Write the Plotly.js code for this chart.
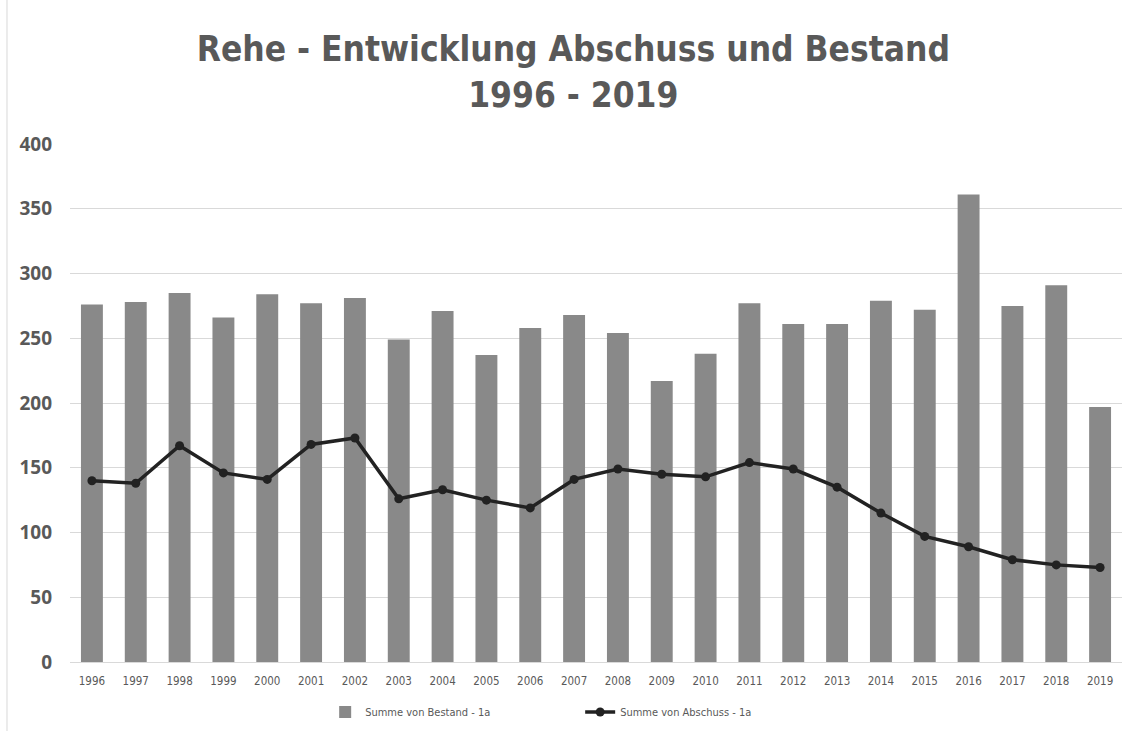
<!DOCTYPE html>
<html>
<head>
<meta charset="utf-8">
<script src="https://cdn.plot.ly/plotly-3.0.1.min.js"></script>
<style>html,body{margin:0;padding:0;background:#fff;}#chart{width:1133px;height:731px;}</style>
</head>
<body>
<div id="chart"></div>
<script>
const years = ["1996","1997","1998","1999","2000","2001","2002","2003","2004","2005","2006","2007","2008","2009","2010","2011","2012","2013","2014","2015","2016","2017","2018","2019"];
const bestand = [276,278,285,266,284,277,281,249,271,237,258,268,254,217,238,277,261,261,279,272,361,275,291,197];
const abschuss = [140,138,167,146,141,168,173,126,133,125,119,141,149,145,143,154,149,135,115,97,89,79,75,73];
const yTicks = [0,50,100,150,200,250,300,350,400];

const narrow = '"DejaVu Sans Condensed", "Liberation Sans Narrow", sans-serif';
const gray = '#595959';

const traces = [
  {
    type: 'bar', x: years, y: bestand, name: 'Summe von Bestand - 1a',
    marker: {color: '#898989', line: {width: 0}},
    hoverinfo: 'x+y'
  },
  {
    type: 'scatter', mode: 'lines+markers', x: years, y: abschuss, name: 'Summe von Abschuss - 1a',
    line: {color: '#222222', width: 3.5},
    marker: {color: '#222222', size: 9, symbol: 'circle'}
  }
];

const layout = {
  width: 1133, height: 731,
  margin: {l: 70, r: 11, t: 144, b: 69},
  paper_bgcolor: '#ffffff', plot_bgcolor: '#ffffff',
  title: {
    text: 'Rehe - Entwicklung Abschuss und Bestand<br>1996 - 2019',
    font: {family: narrow, size: 35, color: gray, weight: 'bold'},
    x: 0.506, xanchor: 'center', xref: 'container',
    y: 0.916, yanchor: 'top', yref: 'container'
  },
  bargap: 0.5,
  showlegend: true,
  legend: {
    orientation: 'h', xref: 'container', yref: 'container',
    x: 0.287, xanchor: 'left', y: 0.026, yanchor: 'middle',
    font: {family: narrow, size: 11, color: gray},
    itemwidth: 30, entrywidth: 210, entrywidthmode: 'pixels',
    bgcolor: 'rgba(0,0,0,0)'
  },
  xaxis: {
    type: 'category', range: [-0.5, 23.5], autorange: false,
    showgrid: false, zeroline: false, showline: true, linecolor: '#d9d9d9', linewidth: 1,
    ticks: '', tickfont: {family: narrow, size: 11.5, color: gray},
    ticklabelstandoff: 8
  },
  yaxis: {
    range: [0, 400], autorange: false, tickvals: yTicks, ticktext: yTicks.map(String),
    showgrid: true, gridcolor: '#d9d9d9', gridwidth: 1,
    zeroline: false, showline: false, ticks: '',
    tickfont: {family: '"Open Sans", sans-serif', size: 19, color: gray, weight: 'bold'},
    ticklabelstandoff: 17
  },
  shapes: [
    {type: 'line', xref: 'paper', yref: 'paper', x0: -0.0599, x1: -0.0599, y0: -0.14, y1: 1.28,
     line: {color: '#d9d9d9', width: 1}}
  ]
};

Plotly.newPlot('chart', traces, layout, {displayModeBar: false, staticPlot: true});
</script>
</body>
</html>
